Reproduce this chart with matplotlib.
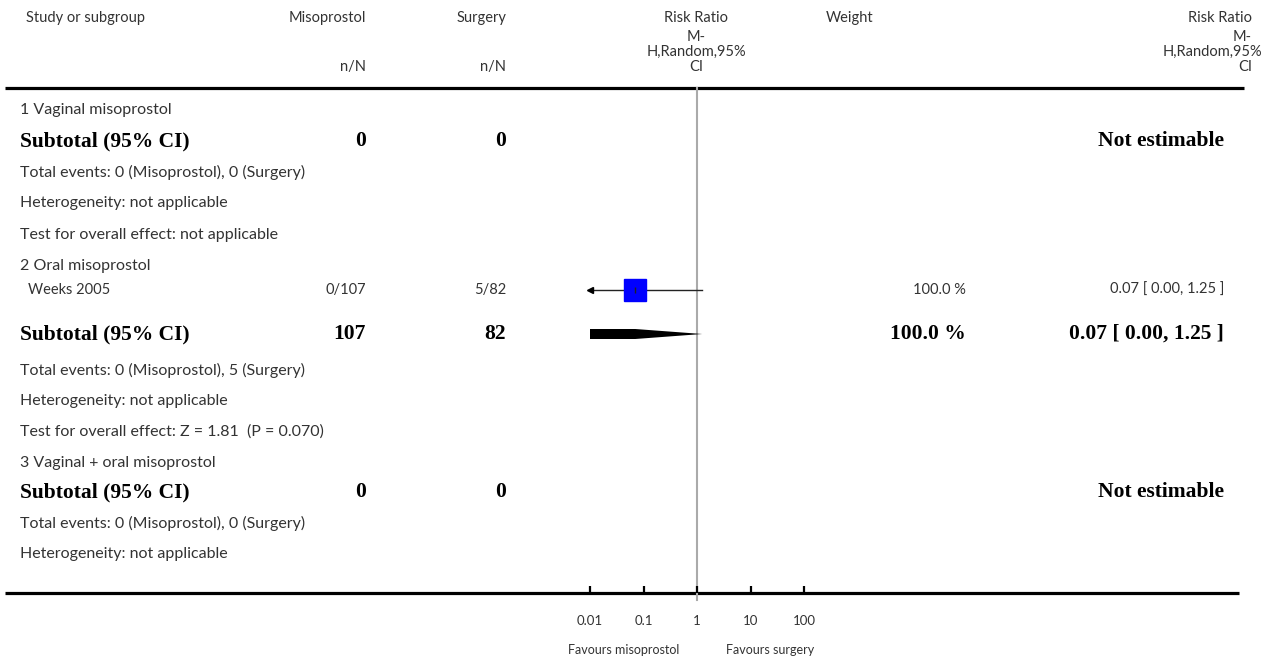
import numpy as np
import matplotlib.pyplot as plt
from matplotlib.patches import Polygon
from matplotlib.ticker import NullLocator

# data
group_labels = ['1 Vaginal misoprostol', '2 Oral misoprostol', '3 Vaginal + oral misoprostol']
sub_miso = ['0', '107', '0']
sub_surg = ['0', '82', '0']
sub_weight = ['', '100.0 %', '']
sub_rr = [None, 0.07, None]
sub_lo = [None, 0.00, None]
sub_hi = [None, 1.25, None]
sub_ci_text = ['Not estimable', '0.07 [ 0.00, 1.25 ]', 'Not estimable']
total_events = ['Total events: 0 (Misoprostol), 0 (Surgery)',
                'Total events: 0 (Misoprostol), 5 (Surgery)',
                'Total events: 0 (Misoprostol), 0 (Surgery)']
heterogeneity = ['Heterogeneity: not applicable'] * 3
overall_test = ['Test for overall effect: not applicable',
                'Test for overall effect: Z = 1.81  (P = 0.070)',
                None]

study_names = ['Weeks 2005']
study_miso = ['0/107']
study_surg = ['5/82']
study_weight = ['100.0 %']
study_rr = [0.07]
study_lo = [0.00]
study_hi = [1.25]
study_ci_text = ['0.07 [ 0.00, 1.25 ]']

ticks = [0.01, 0.1, 1, 10, 100]
tick_labels = ['0.01', '0.1', '1', '10', '100']
favours = ['Favours misoprostol', 'Favours surgery']

W, H = 1266, 659
fig = plt.figure(figsize=(12.66, 6.59), dpi=100)
ax = fig.add_axes([0, 0, 1, 1])
ax.set_xlim(0, W)
ax.set_ylim(H, 0)
ax.axis('off')

TXT = '#333333'


def t(x, y, s, ha='left', bold=False, size=11.5):
    if bold:
        ax.text(x, y, s, ha=ha, va='center', fontfamily='Liberation Serif',
                fontweight='bold', fontsize=15.5, color='black')
    else:
        ax.text(x, y, s, ha=ha, va='center', fontfamily='Lato',
                fontsize=size, color=TXT)


# header
hs = 10.5
t(85, 18, 'Study or subgroup', ha='center', size=hs)
t(366, 18, 'Misoprostol', ha='right', size=hs)
t(506, 18, 'Surgery', ha='right', size=hs)
t(366, 67, 'n/N', ha='right', size=hs)
t(506, 67, 'n/N', ha='right', size=hs)
for yy, s in zip([18, 37, 52, 67], ['Risk Ratio', 'M-', 'H,Random,95%', 'CI']):
    t(696, yy, s, ha='center', size=hs)
t(850, 18, 'Weight', ha='center', size=hs)
for yy, s, xx in zip([18, 37, 52, 67], ['Risk Ratio', 'M-', 'H,Random,95%', 'CI'],
                     [1252, 1252, 1262, 1252]):
    t(xx, yy, s, ha='right', size=hs)
ax.plot([5, 1244], [88, 88], color='black', lw=2.3, solid_capstyle='butt')
ax.plot([5, 1239], [593, 593], color='black', lw=2.3, solid_capstyle='butt')

# forest axes
fx = fig.add_axes([590 / W, 1 - 593 / H, 214 / W, (593 - 88) / H])
fx.set_xscale('log')
fx.set_xlim(ticks[0], ticks[-1])
fx.set_ylim(593, 88)
fx.patch.set_alpha(0)
for sp in fx.spines.values():
    sp.set_visible(False)
fx.set_xticks(ticks)
fx.set_xticklabels(tick_labels)
fx.xaxis.set_minor_locator(NullLocator())
fx.set_yticks([])
fx.tick_params(axis='x', direction='in', length=5, width=1.6, pad=16,
               labelsize=9.5, labelcolor=TXT, color='black')
for lab in fx.get_xticklabels():
    lab.set_fontfamily('Lato')
fx.plot([1, 1], [88, 600], color='#aaaaaa', lw=1.5, clip_on=False, zorder=1)
xmin = ticks[0]

rows = {
    0: [110, 141, 172, 203, 235],
    1: [266, 334, 370, 401, 432],
    2: [463, 492, 523, 554, None],
}
study_y = [290]

for g in range(3):
    yg, ys, ye, yh, yt = rows[g]
    t(20, yg, group_labels[g])
    t(20, ys, 'Subtotal (95% CI)', bold=True)
    t(366, ys, sub_miso[g], ha='right', bold=True)
    t(506, ys, sub_surg[g], ha='right', bold=True)
    if sub_weight[g]:
        t(966, ys, sub_weight[g], ha='right', bold=True)
    t(1224, ys, sub_ci_text[g], ha='right', bold=True)
    t(20, ye, total_events[g])
    t(20, yh, heterogeneity[g])
    if overall_test[g] is not None:
        t(20, yt, overall_test[g])
    if sub_rr[g] is not None:
        lo = max(sub_lo[g], xmin)
        hh = 5
        if sub_lo[g] < xmin:
            pts = [(lo, ys - hh), (sub_rr[g], ys - hh), (sub_hi[g], ys),
                   (sub_rr[g], ys + hh), (lo, ys + hh)]
        else:
            pts = [(lo, ys), (sub_rr[g], ys - hh), (sub_hi[g], ys), (sub_rr[g], ys + hh)]
        fx.add_patch(Polygon(pts, closed=True, color='black', lw=0, zorder=3))

for i, name in enumerate(study_names):
    y = study_y[i]
    t(28, y, name, size=10.5)
    t(366, y, study_miso[i], ha='right', size=10.5)
    t(506, y, study_surg[i], ha='right', size=10.5)
    t(966, y, study_weight[i], ha='right', size=10.5)
    t(1224, y, study_ci_text[i], ha='right', size=10.5)
    lo = max(study_lo[i], xmin)
    fx.plot([lo, study_hi[i]], [y, y], color='#222222', lw=1, zorder=2)
    if study_lo[i] < xmin:
        fx.plot([lo], [y], marker='<', ms=4, color='black', zorder=2, clip_on=False)
    fx.plot([study_rr[i]], [y], marker='s', ms=16, color='#0000ff', mec='#0000ff', zorder=3)
    fx.plot([study_rr[i]], [y], marker='|', ms=4, color='#222222', zorder=4)

t(624, 650, favours[0], ha='center', size=9)
t(770, 650, favours[1], ha='center', size=9)

fig.savefig('out.png', dpi=100)
